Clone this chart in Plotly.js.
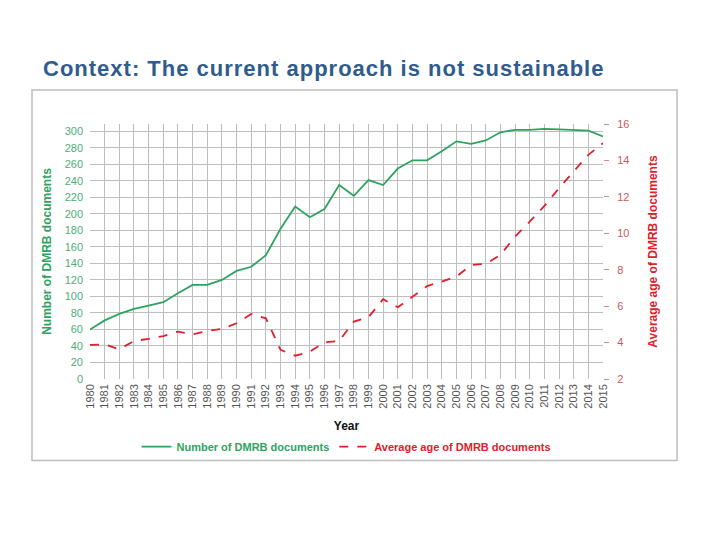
<!DOCTYPE html>
<html>
<head>
<meta charset="utf-8">
<script src="https://cdn.plot.ly/plotly-3.0.1.min.js"></script>
<style>
  html, body { margin: 0; padding: 0; background: #ffffff; }
  #chart { width: 720px; height: 540px; }
  #chart .gtitle { letter-spacing: 1px; }
</style>
</head>
<body>
<div id="chart"></div>
<script>
const years = [1980,1981,1982,1983,1984,1985,1986,1987,1988,1989,1990,1991,1992,1993,1994,1995,1996,1997,1998,1999,2000,2001,2002,2003,2004,2005,2006,2007,2008,2009,2010,2011,2012,2013,2014,2015];
const numberOfDocs = [60,71,79,85,89,93,104,114,114,120,131,136,150,182,209,196,206,235,222,241,235,255,265,265,276,288,285,289,299,302,302,303,302.5,302,301,294];
const averageAge = [3.87,3.9,3.63,4.09,4.2,4.36,4.6,4.45,4.64,4.75,5.06,5.57,5.33,3.6,3.28,3.5,4.02,4.09,5.15,5.39,6.38,5.94,6.52,7.1,7.35,7.62,8.26,8.32,8.81,9.82,10.64,11.5,12.48,13.39,14.31,14.95];
const leftTicks = [0,20,40,60,80,100,120,140,160,180,200,220,240,260,280,300];
const rightTicks = [2,4,6,8,10,12,14,16];

const titleText = 'Context: The current approach is not sustainable';
const green = '#2ea35f';
const red = '#e0202c';

const PL = 90, PR = 603, PT = 124, PB = 379.3;
const pw = PR - PL, ph = PB - PT;
function px(x) { return (x - PL) / pw; }
function py(y) { return (PB - y) / ph; }

const traces = [
  {
    x: years, y: numberOfDocs, type: 'scatter', mode: 'lines',
    name: '<b><span style="color:' + green + '">Number of DMRB documents</span></b>',
    line: { color: green, width: 1.8 },
    yaxis: 'y'
  },
  {
    x: years, y: averageAge, type: 'scatter', mode: 'lines',
    name: '<b><span style="color:' + red + '">Average age of DMRB documents</span></b>',
    line: { color: red, width: 1.8, dash: 'dash' },
    yaxis: 'y2'
  }
];

const layout = {
  width: 720, height: 540,
  paper_bgcolor: '#ffffff', plot_bgcolor: '#ffffff',
  margin: { l: PL, r: 720 - PR, t: PT, b: 540 - PB, pad: 0 },
  font: { family: 'Liberation Sans, Arial, sans-serif', size: 11, color: '#555' },
  title: {
    text: titleText,
    xref: 'container', yref: 'container',
    x: 43 / 720, xanchor: 'left',
    y: 1 - 68 / 540, yanchor: 'middle',
    font: { family: 'Liberation Sans, Arial, sans-serif', size: 22, color: '#2f5b8e', weight: 'bold' }
  },
  showlegend: true,
  legend: {
    orientation: 'h', x: 0.5, xanchor: 'center',
    y: py(447), yanchor: 'middle',
    font: { size: 11 }, itemwidth: 30,
    bgcolor: 'rgba(0,0,0,0)', tracegroupgap: 0
  },
  xaxis: {
    range: [1980, 2015],
    tickmode: 'array', tickvals: years, ticktext: years.map(String),
    tickangle: -90,
    tickfont: { size: 11, color: '#555' },
    showgrid: true, gridcolor: '#bdbdbd', gridwidth: 1,
    zeroline: false, showline: false, ticks: '',
    ticklabelstandoff: 2,
    title: { text: '<b>Year</b>', font: { size: 12, color: '#111' }, standoff: 13 },
    fixedrange: true
  },
  yaxis: {
    range: [0, 309],
    tickmode: 'array', tickvals: leftTicks,
    tickfont: { size: 11, color: '#4fae78' },
    showgrid: true, gridcolor: '#bdbdbd', gridwidth: 1,
    zeroline: false, showline: false, ticks: '',
    ticklabelstandoff: 6,
    title: { text: '<b>Number of DMRB documents</b>', font: { size: 12, color: green }, standoff: 10 }
  },
  yaxis2: {
    range: [2, 16], overlaying: 'y', side: 'right',
    tickmode: 'array', tickvals: rightTicks,
    tickfont: { size: 11, color: '#d0585a' },
    showgrid: false, zeroline: false, showline: false,
    ticks: 'outside', ticklen: 5, tickcolor: '#d88a8a',
    ticklabelstandoff: 6,
    title: { text: '<b>Average age of DMRB documents</b>', font: { size: 12, color: red }, standoff: 20 }
  },
  shapes: [
    {
      type: 'rect', xref: 'paper', yref: 'paper',
      x0: px(32), x1: px(677), y0: py(461), y1: py(90),
      line: { color: '#bdbdbd', width: 1.5 }, fillcolor: 'rgba(0,0,0,0)', layer: 'below'
    }
  ]
};

Plotly.newPlot('chart', traces, layout, { displayModeBar: false, staticPlot: true });
</script>
</body>
</html>
